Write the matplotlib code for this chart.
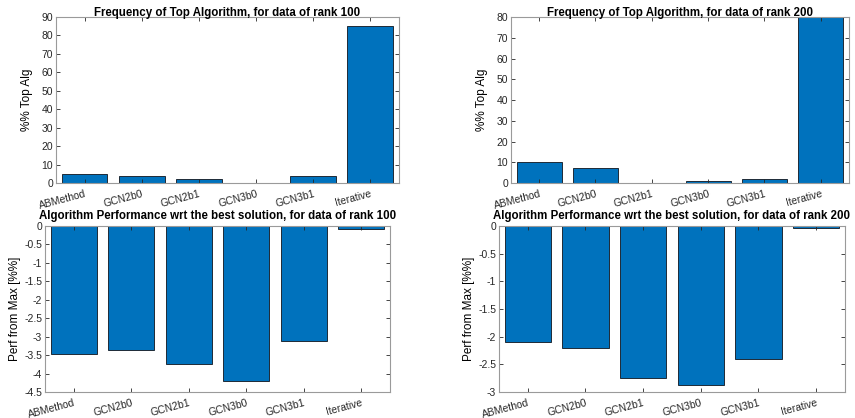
import matplotlib
matplotlib.use("Agg")
import matplotlib.pyplot as plt
from matplotlib import font_manager
import numpy as np

plt.rcParams['font.family'] = ['Liberation Sans', 'DejaVu Sans']
names = {f.name for f in font_manager.fontManager.ttflist}
narrow = ['Liberation Sans Narrow', 'Liberation Sans', 'DejaVu Sans'] if 'Liberation Sans Narrow' in names else ['Liberation Sans', 'DejaVu Sans']

algorithms = ["ABMethod", "GCN2b0", "GCN2b1", "GCN3b0", "GCN3b1", "Iterative"]
freq_rank100 = [5, 4, 2, 0, 4, 85]
freq_rank200 = [10, 7, 0, 1, 2, 80]
perf_rank100 = [-3.48, -3.35, -3.73, -4.20, -3.13, -0.08]
perf_rank200 = [-2.10, -2.20, -2.74, -2.87, -2.40, -0.04]

titles = [
    "Frequency of Top Algorithm, for data of rank 100",
    "Frequency of Top Algorithm, for data of rank 200",
    "Algorithm Performance wrt the best solution, for data of rank 100",
    "Algorithm Performance wrt the best solution, for data of rank 200",
]
ylabels = ["%% Top Alg", "%% Top Alg", "Perf from Max [%%]", "Perf from Max [%%]"]

fig = plt.figure(figsize=(8.55, 4.18), dpi=100)
positions = [
    [0.0655, 0.5622, 0.401, 0.397],
    [0.5977, 0.5622, 0.395, 0.397],
    [0.0526, 0.0622, 0.4035, 0.397],
    [0.5836, 0.0622, 0.4047, 0.397],
]
datasets = [freq_rank100, freq_rank200, perf_rank100, perf_rank200]
ylims = [(0, 90), (0, 80), (-4.5, 0), (-3, 0)]
yticks = [np.arange(0, 91, 10), np.arange(0, 81, 10),
          np.arange(-4.5, 0.01, 0.5), np.arange(-3, 0.01, 0.5)]
ylabel_pads = [6, 6, 2, 2]
title_pads = [1, 1, 5, 5]

x = np.arange(1, len(algorithms) + 1)
for pos, data, title, ylabel, ylim, yt, lp, tp in zip(positions, datasets, titles, ylabels,
                                                      ylims, yticks, ylabel_pads, title_pads):
    ax = fig.add_axes(pos)
    ax.bar(x, data, width=0.8, color="#0072BD", edgecolor="#1f2a36", linewidth=0.7)
    ax.set_xlim(0.5, 6.5)
    ax.set_ylim(*ylim)
    ax.set_yticks(yt)
    ax.set_yticklabels([f"{v:g}" for v in yt])
    ax.set_xticks(x)
    ax.set_xticklabels(algorithms, rotation=15, ha="right", rotation_mode="anchor")
    ax.set_title(title, fontsize=8.3, fontweight="bold", pad=tp)
    ax.set_ylabel(ylabel, fontsize=8.5, labelpad=lp, family=narrow)
    ax.tick_params(direction="in", length=3, width=0.6, top=True, right=True,
                   labelsize=7.5, colors="#262626", pad=2)
    ax.tick_params(axis="x", pad=4)
    for s in ax.spines.values():
        s.set_color("#9a9a9a")
        s.set_linewidth(0.8)

fig.savefig("out.png", dpi=100)
